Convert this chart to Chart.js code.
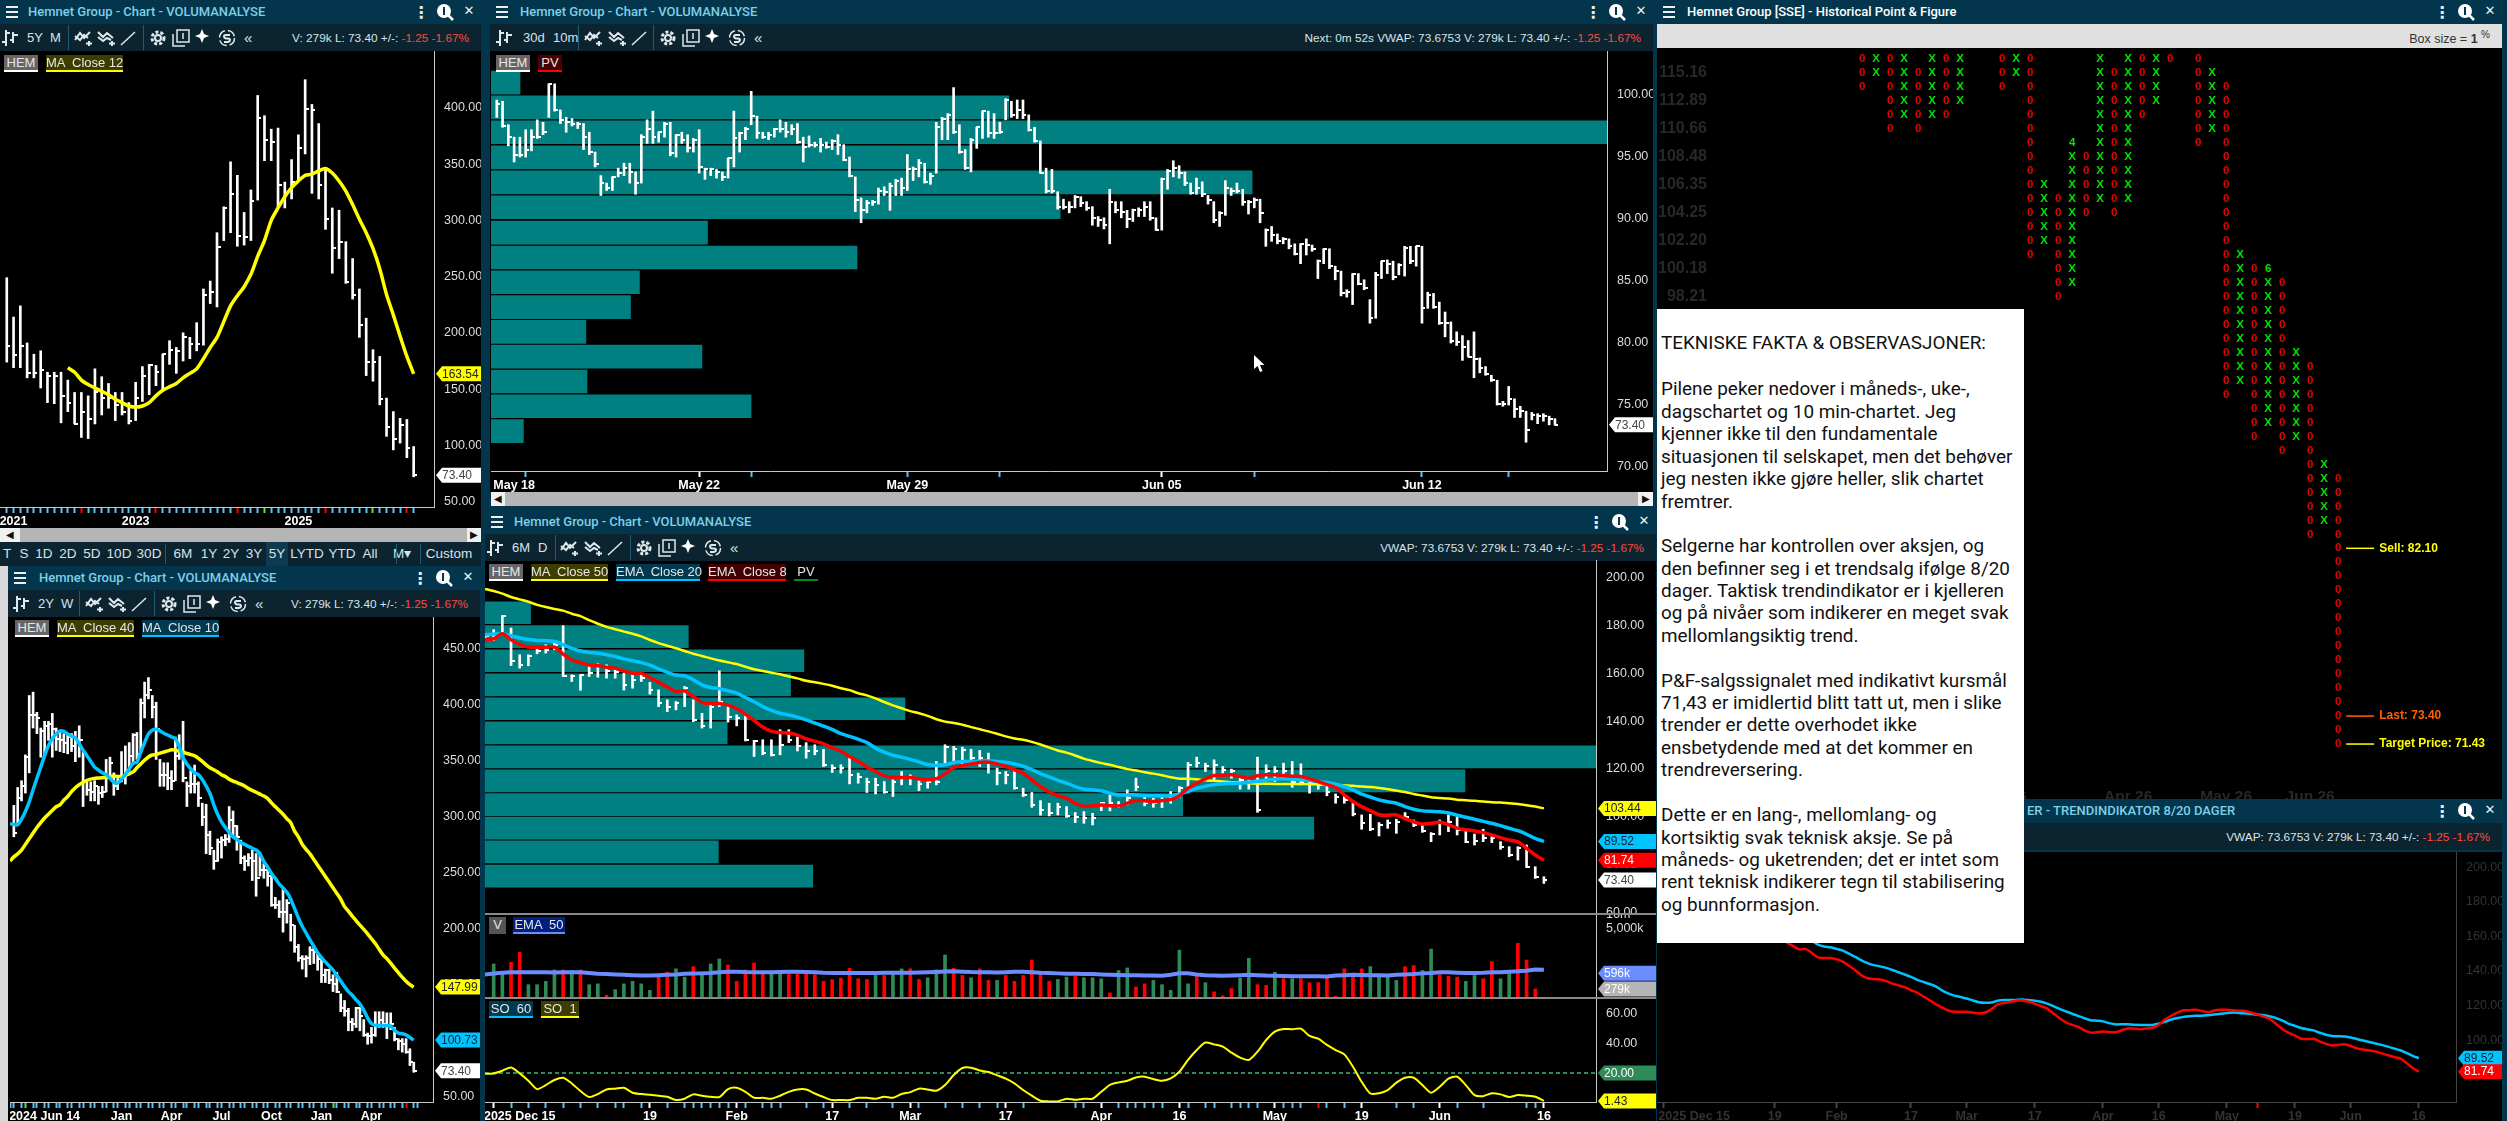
<!DOCTYPE html>
<html>
<head>
<meta charset="utf-8">
<title>Hemnet Group</title>
<script src="https://cdn.jsdelivr.net/npm/chart.js@4"></script>
<style>
html,body{margin:0;padding:0;width:2507px;height:1121px;overflow:hidden;background:#03364d;font-family:"Liberation Sans",Arial,sans-serif;}
div,canvas,svg{position:absolute;}
.t{white-space:pre;}
.chip{font-size:13px;line-height:15px;height:15px;text-align:center;color:#e6e6e6;border-bottom:2px solid;z-index:5;white-space:pre;}
.tb{font-size:13px;color:#d5e3ea;white-space:pre;top:6px;line-height:15px;}
.st{font-size:11.8px;top:7px;}
.note{position:absolute;left:1661px;font:18.9px Roboto,sans-serif;color:#111;white-space:pre;z-index:10;line-height:22px;}
</style>
</head>
<body>
<script>
'use strict';

// monthly chart (5Y / M)
const monthHigh=[249,214,224,191,181,184,165,165,165,158,147,147,144,168,161,155,147,147,138,156,170,172,171,181,193,187,200,196,209,239,246,289,312,352,340,307,327,411,393,381,382,334,354,376,425,403,386,346,311,309,281,266,239,213,185,179,142,130,124,123,99];
const monthLow=[174,169,169,160,160,151,138,137,120,130,119,107,106,119,127,133,122,127,119,122,139,145,153,148,172,164,175,177,184,189,226,223,282,289,277,278,282,318,353,353,312,311,319,335,359,324,319,292,253,266,244,230,196,162,157,136,108,96,102,89,72];
const monthClose=[188,180,188,164,164,167,162,162,144,138,119,130,123,147,142,142,136,130,122,142,162,171,165,181,185,184,196,190,190,234,236,276,311,323,286,285,317,391,371,370,331,324,334,364,399,398,331,301,275,281,245,234,207,174,174,141,116,106,118,98,73.4];
const monthMa12=[169,165,158,154,151,148,145,141,138,135,134,135,138,144,149,152,155,160,164,168,177,187,196,210,224,233,241,252,268,282,300,311,321,329,335,340,341,344,346,342,335,326,314,301,289,275,257,234,216,197,179,163.54];
const monthTickIdx=[2,20,44];
const monthTickText=['2021','2023','2025'];
const monthRedTicks=[12,23,35,48,60];
const monthGreenTicks=[39,55];

// weekly chart (2Y / W)
const weekHigh=[310,326,332,355,408,411,393,379,385,385,392,379,376,374,373,374,376,381,358,332,331,332,327,327,351,353,339,334,358,363,366,374,375,405,420,424,408,402,351,348,348,341,371,373,385,331,341,346,331,312,311,287,270,280,282,284,309,305,292,279,265,267,270,267,267,258,252,247,228,225,237,226,213,203,186,176,176,184,184,178,173,164,164,159,161,142,136,129,120,130,130,119,107,112,126,126,126,125,125,112,102,102,102,93,81];
const weekLow=[282,294,314,321,339,379,374,353,354,368,353,359,358,357,356,358,349,353,309,319,314,314,311,317,322,337,319,324,331,329,341,348,351,358,388,405,388,351,327,327,324,324,332,351,331,309,321,321,309,292,267,266,253,260,263,274,277,282,270,258,252,256,243,229,247,245,238,220,218,210,197,205,189,179,171,164,157,168,169,163,152,152,151,144,143,126,122,109,109,112,109,104,97,98,104,112,112,102,110,100,92,90,89,78,72];
const weekClose=[285,317,327,353,391,391,388,376,381,383,378,369,368,366,371,363,368,368,332,324,322,327,321,322,334,348,327,331,334,341,354,373,356,401,408,413,398,378,337,337,334,332,354,358,334,327,329,329,317,300,284,272,260,277,279,280,297,292,282,263,260,263,260,245,252,252,247,221,221,215,215,223,203,184,174,173,174,181,179,173,159,163,154,151,144,129,127,117,115,129,122,105,104,105,114,119,115,114,115,102,100,97,90,81,73.4];
const weekMa40=[260.4,264.1,266.8,270.2,275.2,280.3,285.3,290.3,294.7,298.8,302.1,305.5,308.8,310.5,314.6,317.9,322.3,325.7,328.4,330.7,332.4,333.4,334.1,334.4,334.7,335.1,335.8,336.1,335.8,335.8,336.8,338.1,339.8,343.5,346.9,350.2,353.2,354.9,355.3,356.6,357.6,358.6,359.6,359.3,358.3,357.6,356.3,355.3,354.3,351.9,349.2,346.2,343.5,341.8,339.8,337.4,335.8,333.4,331.7,330.4,329,327.3,325,323.3,321.7,320,318.3,316.2,312.2,308.8,305.5,302.1,298.1,294.7,287,281.9,275.2,270.8,266.8,261.8,256.7,251.7,246.6,241.6,236.5,231.5,226.4,219.7,215.7,211.3,207.3,203.2,199.5,195.5,191.1,186.8,181.7,176.7,173.4,169.3,164.9,160.8,156.8,153.1,150.1,147.99];
const weekMa10=[293.7,293,292.7,297.7,304.5,313.2,324,334.1,344.2,354.3,363.3,369.4,373.8,376.5,376.1,373.8,371.7,370.4,365,359.3,354.3,349.2,344.2,341.5,339.1,337.4,334.1,330.7,330,333.4,337.4,342.5,347.5,348.5,357.6,366,373.8,377.1,377.8,376.5,374.4,372.8,371.1,369.4,362.7,352.6,346.9,342.5,339.1,337.4,333.1,327.3,320.6,310.5,302.1,295.4,290.3,286,281.9,279.6,276.9,275.2,273.5,271.8,270.2,266.8,260.1,255,249.3,244.9,239.9,236.5,232.5,226.4,218,209.6,202.2,196.2,190.1,184.4,178.7,174.3,170.3,166.9,163.2,158.2,153.4,148.4,144,140.7,136.6,132.9,127.2,120.5,115.4,113.8,113.8,113.8,113.8,113.4,109.4,107,106.4,105.4,103,100.73];
const weekTickIdx=[9,29,42,55,68,81,94];
const weekTickText=['2024 Jun 14','Jan','Apr','Jul','Oct','Jan','Apr'];

// 10 minute chart (30d / 10m)
const minHigh=[99.6,99.5,97.6,96.6,96.6,97.2,97.2,98,97.8,100.9,100.9,98.8,98.2,98.1,97.8,97.7,97,95.4,93.5,92.9,93.4,94.1,94.5,94.5,93.8,96.8,98,98.7,97,97.8,97.8,96.8,97,96.8,96.5,97.2,94.1,94.1,94,93.8,94.9,98.7,97,97.4,100.3,98.3,97,97,97.3,98,97.8,97.6,97.7,96.6,96.7,96.2,96.5,96.2,96.4,96.8,96,95,93.4,91.7,91.5,91.5,92.5,92.6,92.9,93.2,93.3,95.2,94.2,94.8,94.5,93.7,97.8,98.2,98.5,100.6,97.6,95.6,96.5,97.4,98.7,98.7,98.5,97.8,99.7,99.5,99.6,99.6,98.4,97.4,96.3,94.1,94,92.2,91.6,91.4,91.9,91.8,91.4,91,90.2,90.1,92.4,91.4,91.4,90.7,90.8,90.9,91.4,91.4,90.1,93.3,94,94.7,94.3,93.8,92.9,93.3,93,91.9,91.4,90.6,93.1,92.5,92.9,92.4,91.5,91.7,91.6,89.2,89.4,88.8,88.5,88.4,88,88,88.4,87.9,86.7,87.6,87.6,86.2,85.8,84.3,85.6,85.6,85.1,83.5,85.7,86.6,86.7,86.6,86.4,87.8,87.8,87.8,87.8,84.1,84,83.3,82.5,81.7,80.9,80.6,80.2,80.9,78.8,78.1,77.4,77,75.3,76.5,75.5,74.9,74.5,74.4,74.3,74.3,74.1,73.9];
const minLow=[98.2,97.4,95.9,94.6,95,95,95.5,96.5,96.8,98.2,98.7,97.7,97,97.5,97.3,95.6,95.2,94.2,91.9,92.3,92.3,93.4,93.5,92.9,92,92.9,96.1,96.1,96.2,96.6,95.1,95,96.1,95.4,95.4,93.7,93.2,93.5,93.3,93.1,93.3,94.2,95.4,96.4,97.6,96.5,96.5,96.4,96.6,97,96.6,96.8,96.1,94.6,95.8,95.8,95.4,95.7,95.6,95.2,94.7,93.4,90.6,89.7,90.5,91.1,91.2,91.9,90.7,91.9,91.9,92.3,93.1,93.4,92.9,92.8,93.7,96.4,96.4,96.9,95.3,94,93.8,95.7,96.5,96.6,96.5,96.9,98,98.2,98.1,98.1,97.1,96.2,93.7,92.1,92.1,90.8,90.8,90.5,90.9,91,90.7,89.5,89.4,89.2,88,90.5,90.1,89.3,89.8,90.2,90.2,89.9,89.1,89.1,92.4,93.4,93.3,92.7,92,92,91.8,91.2,89.7,89.4,90.3,91.9,92.1,91.1,90.4,90.9,89.7,87.8,88.2,88,88,87.6,87.1,86.4,87.1,87.4,85.2,86.4,86,85.1,83.8,83.7,83.1,84.7,84.3,81.6,82,85.2,85.6,85.1,85.5,85.4,86.4,86.2,81.6,82.8,82.8,81.5,80.5,80,79.8,78.6,78.9,77.2,77.6,77.4,76.9,75,74.9,75,74,74,72,73.8,73.5,73.7,73.4,73.4];
const minClose=[99.3,97.5,96.6,95.2,95.2,95.6,96.6,96.6,97,100.9,98.8,98,97.8,97.7,97.7,96.6,95.4,94.4,92.9,92.5,93.4,93.7,94.1,93.8,92.9,96.6,97.3,96.6,97,97.7,95.3,96.8,96.4,95.7,96.4,94.2,94,94,93.8,93.4,94.9,96.5,96.9,97.3,98.3,96.9,96.6,96.8,97.3,97.3,97,97.3,96.2,95.8,96,96,96,95.8,96.3,96,94.8,93.5,91.5,90.7,91.3,91.4,92.3,92.2,92.7,93.1,92.5,94,94,94.5,93,93.5,97.4,98.1,98.4,97,95.4,94.1,96.4,97.4,98.7,96.9,96.9,97,99.6,98.4,98.8,98.4,97.2,96.3,93.7,92.3,92.3,91,91,91,91.8,91.3,90.9,90.1,89.9,89.5,91.4,90.7,90.6,90,90.7,90.7,91,90.1,89.1,93.2,93.9,94.1,93.7,92.9,92.1,92.5,92,91.5,89.9,90.5,92.5,92.3,92.3,91.4,91.4,91.5,90.5,89.1,88.7,88.2,88.4,87.8,87.2,88,87.9,87.6,86.6,87.6,86.2,85.8,84,84.1,85.6,84.8,84.4,82,85.5,86.6,86.4,85.3,86.3,87.7,86.6,87.8,82.8,83.9,82.9,81.6,81.6,80.2,80.1,79.7,78.9,78.7,78,77.5,77,75.1,75.1,75.5,74.7,74.5,72.98,74.2,74.1,74.1,73.9,73.4];
const minVolPrice=[101,99,97,94.97,92.95,90.95,88.9,86.9,84.9,82.9,80.9,78.9,76.9,74.9,72.9];
const minVolume=[2.6,46.4,100,43.1,68.2,51,19.4,32.8,13.3,12.5,8.5,18.9,8.6,23.3,2.9];
const minTickIdx=[4,36,72,116,161];
const minTickText=['May 18','May 22','May 29','Jun 05','Jun 12'];
const minBlueTicks=[6,45,72,88,132,161,176];
const minWhiteTicks=[36,116];

// daily chart (6M / D)
const dayHigh=[176.2,178.3,184.2,179,167.8,167.8,171.3,172,172.7,180,159.4,159.4,163.6,164,163.6,161.5,160.1,160.1,159.4,156.2,153.1,148.9,148.2,154.5,148.9,143.3,146.8,161.1,146.1,142.6,143.3,131.9,132.2,132.2,136.4,136.4,133.3,131,130.1,128.2,121.7,121.7,124.5,118.2,116.1,116.1,114.7,115.4,118.9,117.5,115.4,115.7,123.1,130.1,129.4,129.1,128.2,127.7,126.6,120.3,118.9,118.9,111.9,110.1,106.7,105.6,105.6,104.2,101.7,102.1,101.4,105.9,109.1,106.3,111.2,116.1,108.1,107.7,108,110.5,112.6,122.7,124.9,122.4,123.8,121,119.9,116.8,116.1,124.9,121.7,121,122.4,123.1,122.1,114.7,114.3,113.3,109.5,108.4,105.9,100.7,101,97.5,98.6,98.9,101.7,98.6,96.5,93.3,98.6,100.7,100,94.4,92.7,94.7,92.3,89.5,87.4,87.4,88.1,79,74.8];
const dayLow=[174.8,173.8,176.9,163.3,162.2,163.2,168.2,168.5,169.9,158.7,156.6,152.9,158.7,158.4,158,158,153,153.8,156.6,151.3,146.1,144,144.7,146.1,139.8,137.1,137.1,146.1,139.6,138,131.7,125.2,125.9,125.4,125.9,131,127.5,124.5,125.9,121,118.5,118.2,113.7,114,110.1,109.5,109.8,108.4,113.3,113.3,110.9,111.9,113.3,121.7,122.1,121.7,121.7,121,118.2,113.3,113.7,111.5,108.4,103.9,100.6,100.3,100.7,99.7,97.5,97.2,96.5,102.5,102.4,103.9,104.9,110.9,104.5,103.9,103.8,105.6,108.1,112.6,120.7,118.9,114.7,118.2,116.1,111.5,111.5,101.8,114.7,114.7,115.4,112.3,113.3,109.8,111.5,108.7,105.6,105.6,100.3,94.7,94.1,91.9,95.1,93,98.9,95.8,93.4,89.5,92.3,93.7,92.3,89.1,88.1,89.5,89.1,86.3,83.2,81.8,78.7,74.1,72];
const dayClose=[175.5,175.8,183.9,165,163.6,167.4,169.2,169.9,172,159,159.1,159.4,160.1,162.9,160.8,160.4,155.2,157.3,158,153.1,147.8,146.1,147.5,153.8,140.5,137.8,146.1,148.2,141.9,141.2,132.2,131.5,126.6,125.9,130.1,132.2,129.4,127.3,127.3,121.7,120.3,120.3,117.5,116.8,114.3,113.3,110.5,114.7,116.1,116.1,113.7,114.7,114.7,129.1,128.2,127.7,124.5,124.5,122.4,118.2,117.5,111.9,109.1,104.9,102.8,101.4,103.9,100.3,99.7,99.3,99.3,105.6,105.6,104.9,107.7,112.6,105.6,105.6,107,109.1,111.9,121.7,122.4,121.3,121.7,119.6,118.9,115.4,114.3,102.8,118.9,118.9,119.3,114.7,114.7,114,113.3,110.5,108.1,107,101.1,97.2,94.7,96.5,97.2,97.9,100,96.5,94,92.7,97.9,97.9,94.4,89.5,89.9,90.9,90.9,87.4,83.9,86.7,79,74.8,73.4];
const dayMa50=[195.4,194.5,193.4,192,191,190,188.7,187.8,187,186.3,185,184,182.3,180.8,179.5,178.5,177.5,176.6,175.5,174,172.7,171.6,170.5,169.4,168.2,167.3,166.3,165.4,164.7,163.9,162.8,161.7,161,160.3,159.6,158.7,157.9,156.9,156.3,155.6,154.8,153.8,153,151.7,150.8,149.5,148,146.6,145.4,144.2,143.3,142.2,140.8,139.8,139.2,138.5,137.5,136.6,135.7,134.7,133.6,132.7,132.2,131.3,130.2,128.9,127.7,126.8,125.6,124.3,123.3,122.4,121.7,120.8,119.9,119.3,118.6,118,117.3,116.5,115.9,115.9,115.7,115.2,115,114.7,114.4,114.3,114,113.8,113.8,113.7,113.7,113.7,113.7,113.6,113.6,113.4,113.3,113.1,112.9,112.6,112.4,112,111.5,110.9,110.3,109.5,108.8,108.1,107.8,107.6,107.1,106.9,106.6,106.3,106,105.9,105.6,105.3,104.8,104.2,103.44];
const dayEma20=[176.2,176.5,176.6,175.8,174.8,174.2,173.8,173.7,173.4,172,170.5,169.4,168.8,168.4,167.8,167.1,166.1,165.3,164.5,163.5,161.9,160.5,159.3,158.9,157.3,155.2,154.1,153.6,152.7,151.7,149.9,148.1,146.1,144.5,143.3,142.6,141.7,140.5,139.2,137.9,136.5,134.8,133.6,132.4,131,128.7,127,125.7,124.9,124,122.9,121.8,121.5,121.7,122.7,123.1,123.1,123.2,123.4,123.1,122.8,122.1,121.1,119.6,118,116.6,115.2,114,112.6,111.5,111.2,110.8,109.8,109.1,109.1,109.1,108.8,108.7,108.7,108.7,109.5,110.5,111.9,112.7,113.4,113.8,114,114,114.4,114.8,115.2,115.7,115.9,115.7,115.4,115.1,114.7,114.3,113.6,112.6,111.2,109.4,108.2,107,106.2,105.6,104.2,103.1,102.4,102.2,102,101.5,100.6,99.7,98.9,98,97.2,96.2,95.1,94.1,92.6,90.9,89.52];
const dayEma8=[174.1,174.5,176.6,174.1,172.1,171,171,171,171,168.1,165.7,164.5,163.5,163.2,162.6,162.2,161,160.1,160,158.3,156.3,154.3,152.4,152.7,150.3,147.8,147.4,147.4,146.7,145.3,142.9,140.3,137.5,135.7,135.2,135,134.1,132.6,131.6,130.5,128.8,127.4,125.2,123.1,120.8,118.9,117.1,116.4,116.4,116.4,115.8,115.4,115.9,117.9,120.6,121.4,122,122.7,122.8,122.1,121,119.6,118.2,115.4,112.6,110.3,108.8,107.7,105.6,104.3,104.5,104.9,104.6,104.5,105.6,106.7,106.6,106.3,106.7,107.1,108.7,111.9,114,115.8,117.2,117.3,117.5,116.8,116.1,117.1,117.5,117.5,117.2,116.9,116.8,115.8,114.7,113.4,112.2,109.1,106.3,104.2,102.5,100.8,100.6,100.7,99.2,97.8,96.9,97.2,97.6,96.6,95.2,94.5,94,93.3,92.3,91.2,90.2,89.4,86.7,83.9,81.74];
const dayVolPrice=[185.4,175.4,165.3,155.2,145.2,135.1,125,115,105,95.2,85.2,75.1];
const dayVolume=[4.1,18.3,28.7,27.5,37.8,21.8,100,88.2,62.8,74.6,21,29.5];
const dayTickIdx=[4,19,29,40,49,60,71,80,91,101,110,122];
const dayTickText=['2025 Dec 15','19','Feb','17','Mar','17','Apr','16','May','19','Jun','16'];
const dayBlueTicks=[3,5,7,9,11,13,15,16,18,21,23,24,25,26,27,28,30,32,33,34,37,39,42,44,47,50,53,55,57,59,62,68,69,73,74,75,76,77,78,81,83,84,86,87,88,89,92,93,94,97,99,105,107,112,115,120,121];
const dayRedTicks=[96];

// volume pane under the daily chart, in thousands
const volumes=[927,577,1000,1610,343,343,402,697,697,676,697,343,357,207,271,357,402,357,262,493,626,733,493,817,626,927,1175,883,402,697,970,577,577,577,577,577,577,551,402,435,471,756,456,441,533,533,626,733,733,441,477,697,1420,756,533,477,733,421,421,533,402,533,1120,577,402,441,493,509,477,477,456,231,676,766,308,357,421,343,262,1797,357,533,377,243,201,284,471,1210,343,333,626,456,456,456,377,377,471,197,733,596,733,817,493,493,421,817,857,676,1885,551,517,493,402,533,456,1035,456,577,2500,1120,279];
const volumeUp=[1,1,0,0,1,1,1,1,0,1,0,1,1,0,1,1,1,1,1,0,0,1,1,0,1,1,1,0,0,0,0,0,1,1,0,0,0,0,0,0,0,0,0,0,1,0,1,1,0,0,1,1,1,0,0,1,0,0,1,0,0,0,0,0,0,1,1,0,1,1,1,0,1,1,0,0,1,1,1,1,1,0,1,0,0,0,1,1,0,0,1,0,1,0,0,0,0,0,0,0,0,1,1,1,1,0,0,1,1,0,0,0,1,1,0,0,1,1,0,0,0];
const volumeEma50=[560,585,606,626,626,626,626,620,615,626,626,620,600,580,570,560,550,540,533,533,540,550,560,577,585,590,600,626,640,640,630,626,626,626,630,635,635,630,620,606,600,600,600,600,600,600,606,606,610,610,615,620,630,646,650,640,630,626,620,615,626,640,640,626,610,600,590,577,577,570,570,560,550,545,540,540,535,533,525,550,590,590,560,540,533,525,533,540,550,540,530,525,520,517,517,517,517,510,530,540,550,545,540,540,535,550,560,570,590,600,620,620,610,600,600,606,620,620,640,650,670,709,700];
const soFast=[19.5,19.8,21.6,23.8,19.8,14.9,9.3,12,15.4,16.9,13.1,8,4,6,9.1,9.6,10.2,6.9,6,5.5,4.9,4.2,2,2.9,5.8,4.9,4.2,4,9.3,10.2,7.5,3.5,3.5,2.9,4.9,7.5,9.1,9.1,6.4,4,2,2,2,3.5,3.5,2.9,4.2,3.5,6,7.3,9.6,9.1,8.2,12,18.7,23.4,23.6,21.8,20.7,18.5,16.3,13.1,8.7,4.9,1.5,1.1,1.1,2.9,2.2,2.9,2.9,7.5,12.2,13.8,14.9,17.1,17.6,16,14.9,16.5,20.9,28.8,35.4,40.4,39.2,37.7,33.7,30.3,28.8,34.3,42.1,47.7,49.5,49.3,49.7,44.8,43,38.8,35.4,32.5,24.3,14.2,6.4,6.6,8.7,13.6,16.9,16.9,12,6.9,10.9,16.3,17.6,12,5.3,4.6,6.6,5.8,4,5.3,4.9,4.2,1.43];
const soLevel=[20,20];

// point & figure: column, mark, first box row, last box row
const pfColumns=[[0,'0',0,2],[1,'X',0,1],[2,'0',0,5],[3,'X',0,4],[4,'0',1,5],[5,'X',0,4],[6,'0',0,4],[7,'X',0,3],[10,'0',0,2],[11,'X',0,1],[12,'0',0,14],[13,'X',9,13],[14,'0',10,17],[15,'X',7,16],[16,'0',7,11],[17,'X',0,10],[18,'0',1,11],[19,'X',0,10],[20,'0',0,4],[21,'X',0,3],[22,'0',0,0],[24,'0',0,6],[25,'X',1,5],[26,'0',2,24],[27,'X',14,23],[28,'0',15,27],[29,'X',16,26],[30,'0',16,28],[31,'X',21,27],[32,'0',22,34],[33,'X',29,33],[34,'0',30,49]];
const pfMonthMarks=[[15,6,'4'],[29,15,'6']];
const pfPriceRows=[1,3,5,7,9,11,13,15,17];
const pfPriceText=['115.16','112.89','110.66','108.48','106.35','104.25','102.20','100.18','98.21'];
const pfDateCols=[10,19,26,32];
const pfDateText=['Mar 26','Apr 26','May 26','Jun 26'];
const pfSignalRows=[35,47,49];
const pfSignalText=['Sell: 82.10','Last: 73.40','Target Price: 71.43'];

// trend panel ticks
const trendTickIdx=[6,19,29,41,50,61,72,81,92,103,112,123];
const trendTickText=['2025 Dec 15','19','Feb','17','Mar','17','Apr','16','May','19','Jun','16'];

const noteLines=[[343,'TEKNISKE FAKTA & OBSERVASJONER:'],[389,'Pilene peker nedover i måneds-, uke-,'],[412,'dagschartet og 10 min-chartet. Jeg'],[434,'kjenner ikke til den fundamentale'],[457,'situasjonen til selskapet, men det behøver'],[479,'jeg nesten ikke gjøre heller, slik chartet'],[502,'fremtrer.'],[546,'Selgerne har kontrollen over aksjen, og'],[569,'den befinner seg i et trendsalg ifølge 8/20'],[591,'dager. Taktisk trendindikator er i kjelleren'],[613,'og på nivåer som indikerer en meget svak'],[636,'mellomlangsiktig trend.'],[681,'P&F-salgssignalet med indikativt kursmål'],[703,'71,43 er imidlertid blitt tatt ut, men i slike'],[725,'trender er dette overhodet ikke'],[748,'ensbetydende med at det kommer en'],[770,'trendreversering.'],[815,'Dette er en lang-, mellomlang- og'],[838,'kortsiktig svak teknisk aksje. Se på'],[860,'måneds- og uketrenden; det er intet som'],[882,'rent teknisk indikerer tegn til stabilisering'],[905,'og bunnformasjon.']];

const timeframes=[['T',7],['S',24],['1D',44],['2D',68],['5D',92],['10D',119],['30D',149],['6M',183],['1Y',209],['2Y',231],['3Y',254],['5Y',277],['LYTD',307],['YTD',342],['All',370],['M▾',402],['Custom',449]];

const BLUE='#5cc3f2',RED='#ff0000',YELLOW='#ffff00',CYAN='#00c3ff',FONT='"Liberation Sans"';

Chart.defaults.font.family=FONT;
Chart.defaults.animation=false;

function el(x,y,w,h,css,html){
	const d=document.createElement('div');
	d.style.cssText=`left:${x}px;top:${y}px;width:${w}px;height:${h}px;`+(css||'');
	if(html)d.innerHTML=html;
	document.body.appendChild(d);
	return d;
}

function pad(arr,front,total){
	const out=new Array(front).fill(null).concat(arr);
	while(out.length<total)out.push(null);
	return out;
}

function cats(n){
	return Array.from({length:n},(_,i)=>i);
}

// no extra room around the plot, the canvases are placed to the pixel
function noPadding(s){
	s.paddingTop=s.paddingBottom=s.paddingLeft=s.paddingRight=0;
}

const closeTick=document.createElement('canvas');
closeTick.width=7;closeTick.height=2;
const ctxTick=closeTick.getContext('2d');
ctxTick.fillStyle='#fff';
ctxTick.fillRect(3,0,4,2);

const ICONS={
	bars:'<svg width="18" height="18" stroke="#dfe8ec" stroke-width="2" fill="none"><path d="M5 1V17M5 13H1M5 4H9M12 3V14M12 11H9M12 6H17"/></svg>',
	add:'<svg width="20" height="18" stroke="#dfe8ec" stroke-width="2" fill="none"><path d="M1 11L6 4L10 9L16 3M1 7L6 11L10 6L14 9M15 12V17M12 14.5H18"/></svg>',
	del:'<svg width="20" height="18" stroke="#dfe8ec" stroke-width="2" fill="none"><path d="M1 3L6 8L10 4L16 9M1 8L6 12L10 9L14 11M15 12V17M12 14.5H18"/></svg>',
	pen:'<svg width="18" height="18" stroke="#dfe8ec" stroke-width="1.5" fill="none"><path d="M2 16L16 3"/></svg>',
	gear:'<svg width="18" height="18" stroke="#dfe8ec" fill="none"><circle cx="9" cy="9" r="3" stroke-width="2"/><circle cx="9" cy="9" r="6" stroke-width="3" stroke-dasharray="3 2"/></svg>',
	win:'<svg width="18" height="18" stroke="#dfe8ec" stroke-width="1.5" fill="none"><rect x="5" y="1" width="12" height="12"/><path d="M1 5V17H13M11 4V10"/></svg>',
	plus:'<svg width="14" height="14" fill="#fff"><path d="M7 0L9 5L14 7L9 9L7 14L5 9L0 7L5 5Z"/></svg>',
	sync:'<svg width="18" height="18" stroke="#dfe8ec" fill="none"><circle cx="9" cy="9" r="7.5" stroke-width="1.5" stroke-dasharray="9 3"/><path d="M12 6H7.5Q6 6 6 7.5T8 9.5H10Q12 9.5 12 11T10 13H6" stroke-width="2"/></svg>',
	find:'<svg width="18" height="18"><circle cx="8" cy="8" r="7" fill="#fff"/><path d="M8 4V12" stroke="#03364d" stroke-width="2"/><path d="M12 12L17 17" stroke="#fff" stroke-width="2.5"/></svg>'
};

function icon(parent,name,x){
	const s=document.createElement('div');
	s.style.cssText=`left:${x-9}px;top:5px;width:18px;height:18px;`;
	s.innerHTML=ICONS[name];
	parent.appendChild(s);
}

function text(parent,x,css,str){
	const s=document.createElement('div');
	s.className='tb';
	s.style.cssText=`left:${x}px;`+(css||'');
	s.textContent=str;
	parent.appendChild(s);
	return s;
}

function statusLine(){
	return '<span>V: 279k L: 73.40 +/-: </span><span style="color:#ff4a3a">-1.25 -1.67%</span>';
}

function panel(x,y,w,title,titleX,items,rightPrefix,titleColor){
	const bar=el(x,y,w,24,'background:#03364d;');
	[6,11,16].forEach(t=>{
		const l=document.createElement('div');
		l.style.cssText=`left:6px;top:${t}px;width:12px;height:2px;background:#eee;`;
		bar.appendChild(l);
	});
	const ti=document.createElement('div');
	ti.className='t';
	ti.style.cssText=`left:${titleX}px;top:4px;font:500 13px Roboto;color:${titleColor||'#7fcfe6'};`;
	ti.textContent=title;
	bar.appendChild(ti);
	[[w-60,'⋮','16px'],[w-12,'✕','13px']].forEach(g=>{
		const s=document.createElement('div');
		s.className='t';
		s.style.cssText=`left:${g[0]-8}px;top:3px;width:16px;text-align:center;font:bold ${g[2]} "DejaVu Sans";color:#eee;`;
		s.textContent=g[1];
		bar.appendChild(s);
	});
	const f=document.createElement('div');
	f.style.cssText=`left:${w-45}px;top:3px;width:18px;height:18px;`;
	f.innerHTML=ICONS.find;
	bar.appendChild(f);
	if(!items)return;
	const tool=el(x,y+24,w,27,'background:#0c2330;');
	if(items.bars>0){
		icon(tool,'bars',items.bars);
		text(tool,items.a,'',items.aText);
		text(tool,items.b,'',items.bText);
		[items.sep1,items.sep2].forEach(v=>{
			const s=document.createElement('div');
			s.style.cssText=`left:${v}px;top:1px;width:1px;height:25px;background:#1f5a76;`;
			tool.appendChild(s);
		});
		icon(tool,'add',items.i1);
		icon(tool,'del',items.i2);
		icon(tool,'pen',items.i3);
		icon(tool,'gear',items.i4);
		icon(tool,'win',items.i5);
		icon(tool,'plus',items.i6);
		icon(tool,'sync',items.i7);
		text(tool,items.i8,'font-size:15px;top:6px;','«');
	}
	const r=document.createElement('div');
	r.className='tb st';
	r.style.cssText='right:12px;';
	r.innerHTML=(rightPrefix||'')+statusLine();
	tool.appendChild(r);
}

function chip(x,y,w,str,bg,border,color){
	const c=el(x,y,w,15,`background:${bg};border-bottom-color:${border};`+(color?`color:${color};`:''));
	c.className='chip';
	c.textContent=str;
}

function scrollbar(x,y,w,h,leftW,rightW,cellBg){
	el(x,y,w,h,'background:#b5b5b5;');
	el(x,y,leftW,h,`background:${cellBg};color:#111;font-size:10px;line-height:${h}px;text-align:center;`,'◀');
	el(x+w-rightW,y,rightW,h,`background:${cellBg};color:#111;font-size:10px;line-height:${h}px;text-align:center;`,'▶');
}

// value flags on the right axis
const priceTags={
	id:'priceTags',
	afterDraw(chart,args,opts){
		const scale=chart.scales.y,ctx=chart.ctx;
		(opts.tags||[]).forEach(t=>{
			const y=scale.getPixelForValue(t.value),x0=scale.left+2,x1=chart.width,hh=7.5;
			ctx.save();
			ctx.beginPath();
			ctx.moveTo(x0,y);ctx.lineTo(x0+6,y-hh);ctx.lineTo(x1,y-hh);ctx.lineTo(x1,y+hh);ctx.lineTo(x0+6,y+hh);
			ctx.closePath();
			ctx.fillStyle=t.bg;ctx.fill();
			ctx.fillStyle=t.fg;
			ctx.font=`12px ${FONT}`;
			ctx.textBaseline='middle';
			ctx.textAlign='left';
			ctx.fillText(t.text,x0+6,y+0.5);
			ctx.restore();
		});
	}
};

// point & figure marks are letters, not shapes
const glyphPoints={
	id:'glyphPoints',
	afterDatasetsDraw(chart){
		const ctx=chart.ctx;
		chart.data.datasets.forEach((ds,i)=>{
			if(!ds.glyph&&!ds.glyphs)return;
			ctx.save();
			ctx.font=ds.glyphFont;
			ctx.fillStyle=ds.glyphColor;
			ctx.textAlign=ds.glyphAlign||'center';
			ctx.textBaseline='middle';
			chart.getDatasetMeta(i).data.forEach((p,k)=>{
				ctx.fillText(ds.glyphs?ds.glyphs[k]:ds.glyph,p.x,p.y);
			});
			ctx.restore();
		});
	}
};

function addChart(x,y,w,h,config){
	const c=document.createElement('canvas');
	c.style.cssText=`left:${x}px;top:${y}px;`;
	c.width=w;c.height=h;
	document.body.appendChild(c);
	config.options.responsive=false;
	config.options.devicePixelRatio=1;
	config.options.layout={padding:0,autoPadding:false};
	config.options.plugins=Object.assign({legend:{display:false},tooltip:{enabled:false}},config.options.plugins);
	return new Chart(c.getContext('2d'),config);
}

function xAxis(height,idx,labels,tickColor,labelColor,bold){
	return {
		type:'category',offset:false,
		afterFit(s){s.height=height;noPadding(s);},
		border:{color:labelColor==='#333'?'#444':'#c8c8c8'},
		grid:{display:height>0,drawOnChartArea:false,offset:false,tickLength:height>0?6:0,tickWidth:2,tickColor:c=>tickColor(c.index)},
		ticks:{display:height>0,autoSkip:false,maxRotation:0,minRotation:0,padding:1,color:labelColor,font:{size:12.5,weight:bold?'bold':'normal'},
			callback:(v,i)=>{const k=idx.indexOf(i);return k<0?'':labels[k];}}
	};
}

function yAxis(min,max,values,width,color,fmt,extra){
	return Object.assign({
		type:'linear',position:'right',min,max,offset:false,
		afterFit(s){s.width=width;noPadding(s);},
		afterBuildTicks(s){s.ticks=values.map(v=>({value:v}));},
		border:{color:color==='#333'?'#444':'#c8c8c8'},
		grid:{drawOnChartArea:false,drawTicks:false,offset:false},
		ticks:{color,padding:10,font:{size:12.5},callback:fmt||(v=>v.toFixed(2))}
	},extra);
}

// hidden axis for the volume-at-price rows, in percent of the widest row
function volAxis(){
	return {type:'linear',display:false,min:0,max:100,offset:false,afterFit:noPadding};
}

function ohlc(high,low,close,front,total){
	return [
		{type:'bar',data:pad(high.map((h,i)=>[low[i],h]),front,total),backgroundColor:'#fff',barThickness:2,grouped:false,order:6},
		{type:'line',data:pad(close,front,total),showLine:false,pointStyle:closeTick,pointRadius:2,order:5}
	];
}

function avgLine(data,color,width,order){
	return {type:'line',data,borderColor:color,borderWidth:width,pointRadius:0,tension:0.25,order:order||1,fill:false};
}

function volumeAtPrice(price,vol,thick){
	return {type:'bar',indexAxis:'y',xAxisID:'xVol',yAxisID:'y',data:vol.map((v,i)=>({x:v,y:price[i]})),backgroundColor:'#008080',barThickness:thick,grouped:false,order:9};
}

// ---- window chrome ----
el(0,51,481,477,'background:#000;');
el(8,617,472,504,'background:#000;');
el(0,566,8,555,'background:#d9d9d9;');
el(490,51,1163,441,'background:#000;');
el(485,560,1171,561,'background:#000;');
el(1657,48,845,751,'background:#000;');
el(1657,852,845,269,'background:#000;');

panel(0,0,481,'Hemnet Group - Chart - VOLUMANALYSE',28,{bars:10,a:27,aText:'5Y',b:50,bText:'M',sep1:68,i1:83,i2:106,i3:128,sep2:143,i4:158,i5:181,i6:204,i7:227,i8:244});
panel(8,566,472,'Hemnet Group - Chart - VOLUMANALYSE',31,{bars:13,a:30,aText:'2Y',b:53,bText:'W',sep1:71,i1:86,i2:109,i3:131,sep2:146,i4:161,i5:184,i6:207,i7:230,i8:247});
panel(490,0,1163,'Hemnet Group - Chart - VOLUMANALYSE',30,{bars:14,a:33,aText:'30d',b:63,bText:'10m',sep1:88,i1:103,i2:127,i3:149,sep2:163,i4:178,i5:201,i6:224,i7:247,i8:264},'Next: 0m 52s VWAP: 73.6753 ');
panel(485,510,1171,'Hemnet Group - Chart - VOLUMANALYSE',29,{bars:10,a:27,aText:'6M',b:53,bText:'D',sep1:70,i1:84,i2:108,i3:130,sep2:145,i4:159,i5:182,i6:205,i7:228,i8:245},'VWAP: 73.6753 ');
panel(1657,0,845,'Hemnet Group [SSE] - Historical Point & Figure',30,null,null,'#ffffff');
panel(1657,799,845,'',30,{bars:0},'VWAP: 73.6753 ');
el(2027,803,300,20,'font:500 13px Roboto;color:#7fcfe6;white-space:pre;z-index:6;','ER - TRENDINDIKATOR 8/20 DAGER');

el(1657,24,845,24,'background:#e0e0e0;');
el(2300,29,190,18,'font-size:12.5px;color:#333;text-align:right;white-space:pre;','Box size = <b>1</b> <sup style="font-size:10px">%</sup>');

scrollbar(0,528,481,14,20,14,'#f1f1f1');
scrollbar(491,492,1162,14,14,15,'#f1f1f1');

el(0,542,481,24,'background:#0c2330;');
el(266,542,22,24,'background:#0e3a50;');
timeframes.forEach(t=>{
	el(t[1]-25,546,50,16,'font-size:13.5px;color:#d5e3ea;text-align:center;line-height:16px;white-space:pre;',t[0]);
});
[165,396,420].forEach(v=>el(v,544,1,20,'background:#1f5a76;'));

// separators of the daily panes
el(485,913,1171,2,'background:#8a8a8a;z-index:3;');
el(485,997,1171,2,'background:#8a8a8a;z-index:3;');

// ---- monthly ----
addChart(0,51,481,477,{
	data:{labels:cats(65),datasets:[...ohlc(monthHigh,monthLow,monthClose,1,65),avgLine(pad(monthMa12,10,65),YELLOW,3.5)]},
	options:{
		scales:{
			x:xAxis(21,monthTickIdx,monthTickText,i=>i<1||i>61?'transparent':monthRedTicks.includes(i)?RED:monthGreenTicks.includes(i)?'#55e05a':BLUE,'#fff',true),
			y:yAxis(45.2,450.5,[50,100,150,200,250,300,350,400],47,'#ddd')
		},
		plugins:{priceTags:{tags:[{value:163.54,bg:YELLOW,fg:'#222',text:'163.54'},{value:73.4,bg:'#fff',fg:'#444',text:'73.40'}]}}
	},
	plugins:[priceTags]
});
chip(4,55,34,'HEM','#666','#fff');
chip(46,55,77,'MA  Close 12','#3d3d00',YELLOW);

// ---- weekly ----
addChart(10,617,470,504,{
	data:{labels:cats(111),datasets:[...ohlc(weekHigh,weekLow,weekClose,1,111),avgLine(pad(weekMa40,0,111),YELLOW,3.5,2),avgLine(pad(weekMa10,0,111),CYAN,3.5,1)]},
	options:{
		scales:{
			x:xAxis(19,weekTickIdx,weekTickText,i=>i>106?'transparent':i===103?RED:i===4||i===84?'#55e05a':i%3!==2?BLUE:'transparent','#fff',true),
			y:yAxis(45.5,478,[50,100,150,200,250,300,350,400,450],47,'#ddd')
		},
		plugins:{priceTags:{tags:[{value:147.99,bg:YELLOW,fg:'#222',text:'147.99'},{value:100.73,bg:CYAN,fg:'#123',text:'100.73'},{value:73.4,bg:'#fff',fg:'#444',text:'73.40'}]}}
	},
	plugins:[priceTags]
});
chip(15,620,34,'HEM','#666','#fff');
chip(57,620,77,'MA  Close 40','#3d3d00',YELLOW);
chip(142,620,77,'MA  Close 10','#003a50',CYAN);

// ---- 10 minute ----
addChart(491,51,1162,441,{
	data:{labels:cats(194),datasets:[...ohlc(minHigh,minLow,minClose,1,194),volumeAtPrice(minVolPrice,minVolume,23)]},
	options:{
		scales:{
			x:xAxis(21,minTickIdx,minTickText,i=>minBlueTicks.includes(i)?BLUE:minWhiteTicks.includes(i)?'#fff':'transparent','#fff',true),
			y:yAxis(69.68,103.55,[70,75,80,85,90,95,100],46,'#ddd',null),
			xVol:volAxis()
		},
		plugins:{priceTags:{tags:[{value:73.4,bg:'#fff',fg:'#444',text:'73.40'}]}}
	},
	plugins:[priceTags]
});
chip(496,55,34,'HEM','#666','#fff');
chip(538,55,24,'PV','#4a0000',RED);
el(1253,355,14,18,'z-index:5;','<svg width="14" height="18"><path d="M1 0V14L4.5 11L7 17L9.5 16L7 10H11.5Z" fill="#fff"/></svg>');

// ---- daily price ----
addChart(485,560,1171,354,{
	data:{labels:cats(129),datasets:[...ohlc(dayHigh,dayLow,dayClose,0,129),avgLine(pad(dayMa50,0,129),YELLOW,2.5,3),avgLine(pad(dayEma20,0,129),CYAN,3.5,2),avgLine(pad(dayEma8,0,129),RED,3.5,1),volumeAtPrice(dayVolPrice,dayVolume,22)]},
	options:{
		scales:{
			x:xAxis(0,[],[],()=>'transparent','#fff',false),
			y:yAxis(59.2,207.5,[60,80,100,120,140,160,180,200],60,'#ddd'),
			xVol:volAxis()
		},
		plugins:{priceTags:{tags:[{value:103.44,bg:YELLOW,fg:'#222',text:'103.44'},{value:89.52,bg:CYAN,fg:'#123',text:'89.52'},{value:81.74,bg:RED,fg:'#fff',text:'81.74'},{value:73.4,bg:'#fff',fg:'#444',text:'73.40'}]}}
	},
	plugins:[priceTags]
});
chip(489,564,34,'HEM','#666','#fff');
chip(531,564,77,'MA  Close 50','#3d3d00',YELLOW);
chip(616,564,84,'EMA  Close 20','#003a50',CYAN);
chip(708,564,78,'EMA  Close 8','#440000',RED);
chip(794,564,24,'PV','#000','#0a8a0a');

// ---- daily volume ----
addChart(485,915,1171,82,{
	data:{labels:cats(129),datasets:[
		{type:'bar',data:pad(volumes,1,129),backgroundColor:pad(volumeUp,1,129).map(u=>u?'#2e8b57':'#ff0000'),barThickness:3,grouped:false,order:2},
		{type:'line',data:pad(volumeEma50,0,129),borderColor:'#6a8cff',borderWidth:4,pointRadius:0,order:1}
	]},
	options:{
		scales:{
			x:xAxis(0,[],[],()=>'transparent','#fff',false),
			y:yAxis(190,9700,[5000,9700],60,'#ddd',v=>v===5000?'5,000k':'16m',{type:'logarithmic'})
		},
		plugins:{priceTags:{tags:[{value:596,bg:'#6a8cff',fg:'#fff',text:'596k'},{value:279,bg:'#b5b5b5',fg:'#fff',text:'279k'}]}}
	},
	plugins:[priceTags]
});
chip(489,917,17,'V','#555','#555');
chip(513,917,52,'EMA  50','#002080','#6a8cff');

// ---- daily stochastic ----
addChart(485,999,1171,122,{
	data:{labels:cats(129),datasets:[
		avgLine(pad(soFast,0,129),YELLOW,2,1),
		{type:'line',data:new Array(129).fill(soLevel[0]),borderColor:'#2e8b57',borderWidth:2,borderDash:[4,3],pointRadius:0,order:2}
	]},
	options:{
		scales:{
			x:xAxis(19,dayTickIdx,dayTickText,i=>dayRedTicks.includes(i)?RED:dayTickIdx.includes(i)&&i>4?'#fff':i===1?'#fff':dayBlueTicks.includes(i)?BLUE:'transparent','#fff',true),
			y:yAxis(0.7,69.5,[20,40,60],60,'#ddd')
		},
		plugins:{priceTags:{tags:[{value:20,bg:'#2e8b57',fg:'#fff',text:'20.00'},{value:1.43,bg:YELLOW,fg:'#222',text:'1.43'}]}}
	},
	plugins:[priceTags]
});
chip(489,1001,44,'SO  60','#003a50',CYAN);
chip(541,1001,38,'SO  1','#3d3d00',YELLOW);

// ---- point & figure ----
const pfX=[],pfO=[];
pfColumns.forEach(c=>{
	for(let r=c[2];r<=c[3];r++)(c[1]==='X'?pfX:pfO).push({x:c[0],y:r});
});
const pfDatasets=[
	{type:'scatter',data:pfX,pointRadius:0,glyph:'X',glyphFont:`bold 11.5px ${FONT}`,glyphColor:'#00e600'},
	{type:'scatter',data:pfO,pointRadius:0,glyph:'0',glyphFont:`bold 11.5px ${FONT}`,glyphColor:'#e60000'},
	{type:'scatter',data:pfMonthMarks.map(m=>({x:m[0],y:m[1]})),pointRadius:0,glyphs:pfMonthMarks.map(m=>m[2]),glyphFont:`bold 11.5px ${FONT}`,glyphColor:'#00e600'}
];
const pfSignalColors=[YELLOW,'#ff6000',YELLOW];
pfSignalRows.forEach((r,i)=>{
	pfDatasets.push({type:'line',data:[{x:34.57,y:r},{x:36.57,y:r}],borderColor:pfSignalColors[i],borderWidth:1.5,pointRadius:0});
	pfDatasets.push({type:'scatter',data:[{x:36.93,y:r}],pointRadius:0,glyph:pfSignalText[i],glyphFont:`bold 12px ${FONT}`,glyphColor:pfSignalColors[i],glyphAlign:'left'});
});
addChart(1657,48,845,751,{
	data:{datasets:pfDatasets},
	options:{
		scales:{
			x:{type:'linear',min:-10.29,max:45.7,
				afterFit(s){s.height=20;noPadding(s);},
				afterBuildTicks(s){s.ticks=pfDateCols.map(v=>({value:v}));},
				border:{display:false},grid:{display:false},
				ticks:{color:'#282828',font:{size:15.5,weight:'bold'},padding:0,maxRotation:0,callback:v=>pfDateText[pfDateCols.indexOf(v)]}},
			y:{type:'linear',position:'left',reverse:true,min:-0.786,max:51.5,
				afterFit(s){s.width=61;noPadding(s);},
				afterBuildTicks(s){s.ticks=pfPriceRows.map(v=>({value:v}));},
				border:{display:false},grid:{display:false},
				ticks:{color:'#282828',font:{size:16,weight:'bold'},padding:3,callback:v=>pfPriceText[pfPriceRows.indexOf(v)]}}
		}
	},
	plugins:[glyphPoints]
});

// ---- trend panel ----
addChart(1657,852,845,269,{
	data:{labels:cats(130),datasets:[avgLine(pad(dayEma20,1,130),CYAN,2.5,2),avgLine(pad(dayEma8,1,130),RED,2.5,1)]},
	options:{
		scales:{
			x:xAxis(19,trendTickIdx,trendTickText,i=>i===97?RED:trendTickIdx.includes(i)&&i!==6?'#444':i===1?'#444':'transparent','#333',true),
			y:yAxis(64.2,208.7,[100,120,140,160,180,200],46,'#333')
		},
		plugins:{priceTags:{tags:[{value:89.52,bg:CYAN,fg:'#123',text:'89.52'},{value:81.74,bg:RED,fg:'#fff',text:'81.74'}]}}
	},
	plugins:[priceTags]
});

// ---- text overlay ----
el(1657,309,367,634,'background:#fff;z-index:9;');
noteLines.forEach(l=>{
	const d=document.createElement('div');
	d.className='note';
	d.style.top=(l[0]-11)+'px';
	d.textContent=l[1];
	document.body.appendChild(d);
});
</script>
</body>
</html>
